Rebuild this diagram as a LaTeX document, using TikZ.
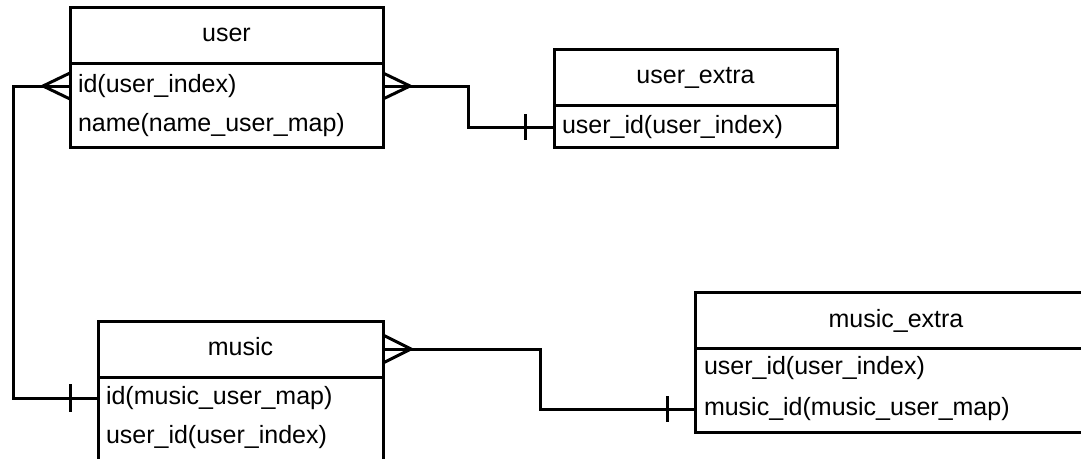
\documentclass[tikz,border=0pt]{standalone}
\usepackage{fontspec}
\setmainfont{Liberation Sans}
\usetikzlibrary{calc}
\begin{document}
\begin{tikzpicture}[x=1pt,y=-1pt,
  line width=3pt,
  every node/.style={font=\fontsize{25}{29}\selectfont, inner sep=0pt, outer sep=0pt,
    text height=18.8pt, text depth=5.8pt},
  hdr/.style={draw, minimum height=56pt},
  fld/.style={anchor=west},
  link/.style={line width=3pt},
]
\useasboundingbox (0,0) rectangle (1081,458);
\clip (0,0) rectangle (1081,458);

% ---- table: user ----
\node[hdr, minimum width=313pt] (user) at (226.5,35) {user};
\draw (user.south west) rectangle (383,147);
\node[fld] (user-id)   at (78,86)  {id(user\_index)};
\node[fld] (user-name) at (78,125) {name(name\_user\_map)};

% ---- table: user_extra ----
\node[hdr, minimum width=283pt] (ux) at (695.5,77) {user\_extra};
\draw (ux.south west) rectangle (837,147);
\node[fld] (ux-uid) at (562,127) {user\_id(user\_index)};

% ---- table: music ----
\node[hdr, minimum width=285pt] (mus) at (240.5,349) {music};
\draw (mus.south west) rectangle (383,465);
\node[fld] (mus-id)  at (106,398) {id(music\_user\_map)};
\node[fld] (mus-uid) at (106,437) {user\_id(user\_index)};

% ---- table: music_extra ----
\node[hdr, minimum width=402pt] (mx) at (896,320.5) {music\_extra};
\draw (mx.south west) rectangle (1097,432);
\node[fld] (mx-uid) at (704,368) {user\_id(user\_index)};
\node[fld] (mx-mid) at (704,409) {music\_id(music\_user\_map)};

% ---- user.id (many) -> music.id (one) ----
\draw[link] (user.west |- user-id) -- ++(-57,0) |- (mus.west |- mus-id);
\draw[link] ($(user.west |- user-id)+(0,-13)$) -- ++(-27,13) -- ++(27,13);
\draw[link] ($(mus.west |- mus-id)+(-28,-14)$) -- ++(0,28);

% ---- user.id (many) -> user_extra.user_id (one) ----
\draw[link] (user.east |- user-id) -- ++(85,0) |- (ux.west |- ux-uid);
\draw[link] ($(user.east |- user-id)+(0,-13)$) -- ++(27,13) -- ++(-27,13);
\draw[link] ($(ux.west |- ux-uid)+(-29,-13)$) -- ++(0,26);

% ---- music (many) -> music_extra.music_id (one) ----
\draw[link] (mus.east) -- ++(157,0) |- (mx.west |- mx-mid);
\draw[link] ($(mus.east)+(0,-14)$) -- ++(28,14) -- ++(-28,14);
\draw[link] ($(mx.west |- mx-mid)+(-28,-13)$) -- ++(0,26);
\end{tikzpicture}
\end{document}
